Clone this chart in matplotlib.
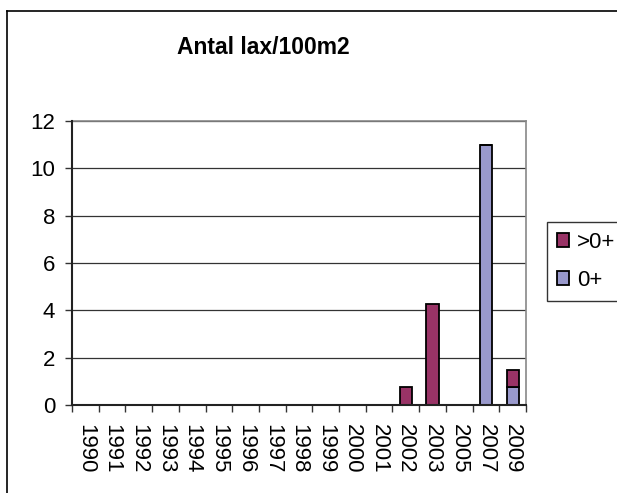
import matplotlib
matplotlib.use("Agg")
import matplotlib.pyplot as plt
from matplotlib.lines import Line2D
from matplotlib.ticker import FixedLocator

plt.rcParams["font.family"] = ["Liberation Sans", "DejaVu Sans"]

# Years on the x axis
YEARS = ["1990", "1991", "1992", "1993", "1994", "1995", "1996", "1997",
         "1998", "1999", "2000", "2001", "2002", "2003", "2005", "2007", "2009"]

# Salmon per 100 m2, 0+ (young of the year) and older than 0+
YOUNG = [0, 0, 0, 0, 0, 0, 0, 0, 0, 0, 0, 0, 0, 0, 0, 11.0, 0.74]
OLDER = [0, 0, 0, 0, 0, 0, 0, 0, 0, 0, 0, 0, 0.74, 4.27, 0, 0, 0.74]

W, H = 617, 493
fig = plt.figure(figsize=(W / 100, H / 100), dpi=100)
ax = fig.add_axes([72 / W, 1 - 405 / H, (526 - 72) / W, (405 - 121) / H])

x = list(range(len(YEARS)))
b_young = ax.bar(x, YOUNG, width=0.46, color="#9999CC", edgecolor="black",
                 linewidth=1.3, label="0+", zorder=3)
b_older = ax.bar(x, OLDER, width=0.46, bottom=YOUNG, color="#993366",
                 edgecolor="black", linewidth=1.3, label=">0+", zorder=3)

ax.set_xlim(-0.5, len(YEARS) - 0.5)
ax.set_ylim(0, 12)
ax.set_yticks(range(0, 13, 2))
ax.yaxis.grid(True, color="#333333", linewidth=0.9, zorder=0)

# category labels at centres, tick marks at the boundaries
ax.set_xticks(x)
ax.set_xticklabels(YEARS, rotation=270, fontsize=16)
ax.xaxis.set_minor_locator(FixedLocator([i - 0.5 for i in range(len(YEARS) + 1)]))
ax.tick_params(axis="x", which="major", length=0, pad=14)
ax.tick_params(axis="x", which="minor", length=5, width=1, color="#333333", direction="out")
ax.tick_params(axis="y", length=5, width=1, color="#333333", labelsize=16, pad=7)

for s in ["top", "right"]:
    ax.spines[s].set_color("#888888")
    ax.spines[s].set_linewidth(1.2)
for s in ["left", "bottom"]:
    ax.spines[s].set_color("#222222")
    ax.spines[s].set_linewidth(1.5)
    ax.spines[s].set_zorder(4)

fig.text(263 / W, 1 - 47 / H, "Antal lax/100m2", ha="center", va="center",
         fontsize=16.5, fontweight="bold")

leg = fig.legend(handles=[b_older, b_young], labels=[">0+", "0+"],
                 loc="upper left", bbox_to_anchor=(547 / W, 1 - 222 / H),
                 fontsize=16, frameon=True, fancybox=False, borderaxespad=0,
                 handlelength=0.55, handleheight=0.55, handletextpad=0.35,
                 labelspacing=0.75, borderpad=0.45)
leg.get_frame().set_edgecolor("black")
leg.get_frame().set_linewidth(1.0)

# outer chart border (left and top edges visible)
fig.add_artist(Line2D([7 / W, 7 / W], [0, 1 - 11 / H], color="black", linewidth=1.2,
                      transform=fig.transFigure))
fig.add_artist(Line2D([7 / W, 1], [1 - 11 / H, 1 - 11 / H], color="black", linewidth=1.2,
                      transform=fig.transFigure))

fig.savefig("out.png", dpi=100)
